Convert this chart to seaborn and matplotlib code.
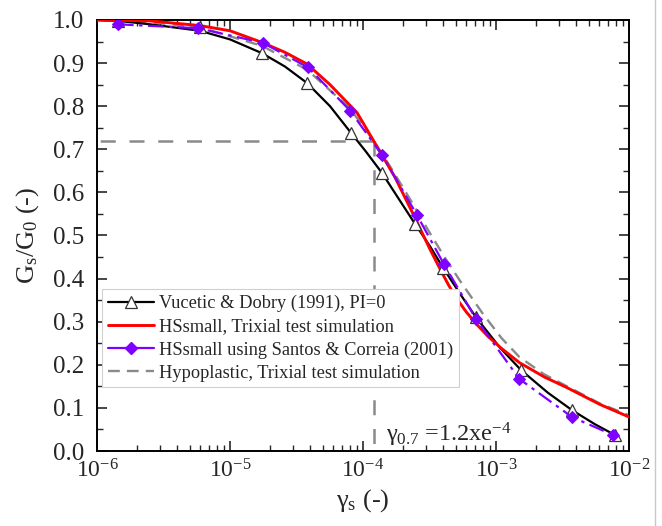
import numpy as np
import pandas as pd
import seaborn as sns
import matplotlib.pyplot as plt
from matplotlib.lines import Line2D
from matplotlib.ticker import LogLocator, MultipleLocator

# ---------------- data ----------------
# Vucetic & Dobry (1991), PI=0 : curve + triangle markers
vd_x = [1e-6, 1.44e-6, 2.5e-6, 5.95e-6, 1.0e-5, 1.74e-5, 2.59e-5, 3.79e-5, 5.65e-5, 8.13e-5,
        1.05e-4, 1.39e-4, 1.83e-4, 2.46e-4, 3.19e-4, 4.0e-4, 5.36e-4, 7.08e-4, 1.07e-3,
        1.54e-3, 2.46e-3, 3.72e-3, 5.55e-3, 7.85e-3]
vd_y = [1.0, 0.998, 0.99, 0.975, 0.955, 0.923, 0.892, 0.854, 0.80, 0.738,
        0.695, 0.645, 0.588, 0.527, 0.475, 0.425, 0.365, 0.31, 0.24,
        0.188, 0.135, 0.095, 0.062, 0.037]
vd_mark_x = [1.44e-6, 5.95e-6, 1.74e-5, 3.79e-5, 8.13e-5, 1.39e-4, 2.46e-4, 4.0e-4, 7.08e-4,
             1.54e-3, 3.72e-3, 7.85e-3]
vd_mark_y = [0.998, 0.983, 0.923, 0.854, 0.738, 0.645, 0.527, 0.425, 0.31,
             0.188, 0.095, 0.037]

# HSsmall, triaxial test simulation
hs_x = [1e-6, 2.5e-6, 5.95e-6, 1e-5, 1.74e-5, 2.59e-5, 3.79e-5, 5.65e-5, 9.02e-5, 1.2e-4,
        1.74e-4, 2.38e-4, 3.19e-4, 3.8e-4, 4.4e-4, 5.1e-4, 6.0e-4, 7.2e-4, 8.7e-4, 1.1e-3,
        1.5e-3, 2.3e-3, 3.42e-3, 6.05e-3, 1e-2]
hs_y = [1.0, 0.998, 0.987, 0.975, 0.948, 0.925, 0.898, 0.85, 0.785, 0.72,
        0.635, 0.55, 0.468, 0.422, 0.385, 0.352, 0.322, 0.293, 0.266, 0.238,
        0.205, 0.172, 0.147, 0.108, 0.079]

# HSsmall using Santos & Correia (2001)
sc_x = [1.44e-6, 5.74e-6, 1.77e-5, 3.86e-5, 7.98e-5, 1.39e-4, 2.54e-4, 4.05e-4, 7.08e-4,
        1.5e-3, 3.72e-3, 7.6e-3]
sc_y = [0.99, 0.981, 0.947, 0.89, 0.79, 0.687, 0.548, 0.434, 0.306,
        0.167, 0.079, 0.037]

# Hypoplastic, triaxial test simulation
hp_x = [1e-6, 2.5e-6, 5.95e-6, 1.74e-5, 3.79e-5, 7.98e-5, 1.2e-4, 1.6e-4, 2.25e-4, 3.19e-4,
        4.2e-4, 5.36e-4, 7.98e-4, 1.1e-3, 1.5e-3, 2.3e-3, 3.42e-3, 6.05e-3, 1e-2]
hp_y = [1.0, 0.995, 0.983, 0.94, 0.885, 0.795, 0.72, 0.66, 0.585, 0.505,
        0.445, 0.395, 0.318, 0.262, 0.218, 0.178, 0.15, 0.11, 0.083]

gamma_07 = 1.2e-4
g_07 = 0.72

labels = ['Vucetic & Dobry (1991), PI=0', 'HSsmall, Trixial test simulation',
          'HSsmall using Santos & Correia (2001)', 'Hypoplastic, Trixial test simulation']

# ---------------- style ----------------
sns.set_style('ticks')
plt.rcParams['font.family'] = ['Liberation Serif', 'DejaVu Serif']
plt.rcParams['mathtext.default'] = 'regular'
plt.rcParams['mathtext.fontset'] = 'custom'
plt.rcParams['mathtext.rm'] = 'Liberation Serif'
plt.rcParams['mathtext.it'] = 'Liberation Serif:italic'

fig = plt.figure(figsize=(6.62, 5.26), dpi=100)
ax = fig.add_axes([97 / 662, 1 - 451 / 526, (629 - 97) / 662, (451 - 20) / 526])

gray = '#8a8a8a'
purple = '#8000ff'

# reference lines for gamma_0.7
ax.plot([gamma_07, 1e-6], [g_07, g_07], color=gray, lw=1.8, dashes=(6, 5.5), zorder=1)
ax.plot([gamma_07, gamma_07], [g_07, 0], color=gray, lw=1.8, dashes=(6, 5.5), zorder=1)

vd = pd.DataFrame({'x': vd_x, 'y': vd_y})
hs = pd.DataFrame({'x': hs_x, 'y': hs_y})
sc = pd.DataFrame({'x': sc_x, 'y': sc_y})
hp = pd.DataFrame({'x': hp_x, 'y': hp_y})

sns.lineplot(data=vd, x='x', y='y', ax=ax, color='black', lw=1.6, sort=False, estimator=None, zorder=3)
sns.lineplot(x=vd_mark_x, y=vd_mark_y, ax=ax, color='black', lw=0, marker='^', markersize=8,
             markerfacecolor='white', markeredgecolor='#333333', markeredgewidth=0.9,
             sort=False, estimator=None, zorder=4)
sns.lineplot(data=hs, x='x', y='y', ax=ax, color='#ff0000', lw=2.1, sort=False, estimator=None, zorder=3)
sns.lineplot(data=sc, x='x', y='y', ax=ax, color=purple, lw=1.6, marker='D', markersize=6.5,
             markeredgecolor=purple, dashes=False, sort=False, estimator=None, zorder=5)
ax.lines[-1].set_dashes((7, 2.5, 1.5, 2.5))
sns.lineplot(data=hp, x='x', y='y', ax=ax, color=gray, lw=1.7, sort=False, estimator=None, zorder=2)
ax.lines[-1].set_dashes((5, 3))

ax.set_xscale('log')
ax.set_xlim(1e-6, 1e-2)
ax.set_ylim(0, 1.0)
ax.xaxis.set_major_locator(LogLocator(base=10, numticks=10))
ax.xaxis.set_minor_locator(LogLocator(base=10, subs=np.arange(2, 10), numticks=20))
ax.yaxis.set_major_locator(MultipleLocator(0.1))
ax.yaxis.set_minor_locator(MultipleLocator(0.05))
ax.yaxis.set_major_formatter(plt.FuncFormatter(lambda v, p: f'{v:.1f}'))

ax.tick_params(which='both', direction='in', top=True, right=True)
ax.tick_params(axis='y', labelsize=18, pad=9)
ax.tick_params(axis='x', labelsize=17, pad=6)
ax.tick_params(which='major', length=7, width=1.2)
ax.tick_params(which='minor', length=4, width=1.0)
for s in ax.spines.values():
    s.set_linewidth(1.4)
    s.set_color('black')

ax.set_xlabel('γ$_{s}$ (-)', fontsize=19, labelpad=3)
ax.set_ylabel('G$_{s}$/G$_{0}$ (-)', fontsize=19, labelpad=9)

ax.text(1.49e-4, 0.023, 'γ$_{0.7}$ =1.2xe$^{-4}$', fontsize=17.5, va='baseline', ha='left')

handles = [
    Line2D([], [], color='black', lw=1.6, marker='^', markersize=8, markerfacecolor='white',
           markeredgecolor='#333333', markeredgewidth=0.9),
    Line2D([], [], color='#ff0000', lw=2.1),
    Line2D([], [], color=purple, lw=1.6, marker='D', markersize=6.5),
    Line2D([], [], color=gray, lw=1.7, dashes=(5, 3)),
]
leg = ax.legend(handles, labels, loc='upper left', bbox_to_anchor=(0.01, 0.375), fontsize=13.2,
                frameon=True, fancybox=False, framealpha=1, edgecolor='#d0d0d0',
                handlelength=2.5, handletextpad=0.3, labelspacing=0.33, borderpad=0.3,
                borderaxespad=0)
leg.get_frame().set_linewidth(0.8)
leg.set_zorder(10)

fig.add_artist(Line2D([655 / 662, 655 / 662], [0, 1], color='#c8c8c8', lw=1.0))

fig.savefig('out.png', dpi=100)
